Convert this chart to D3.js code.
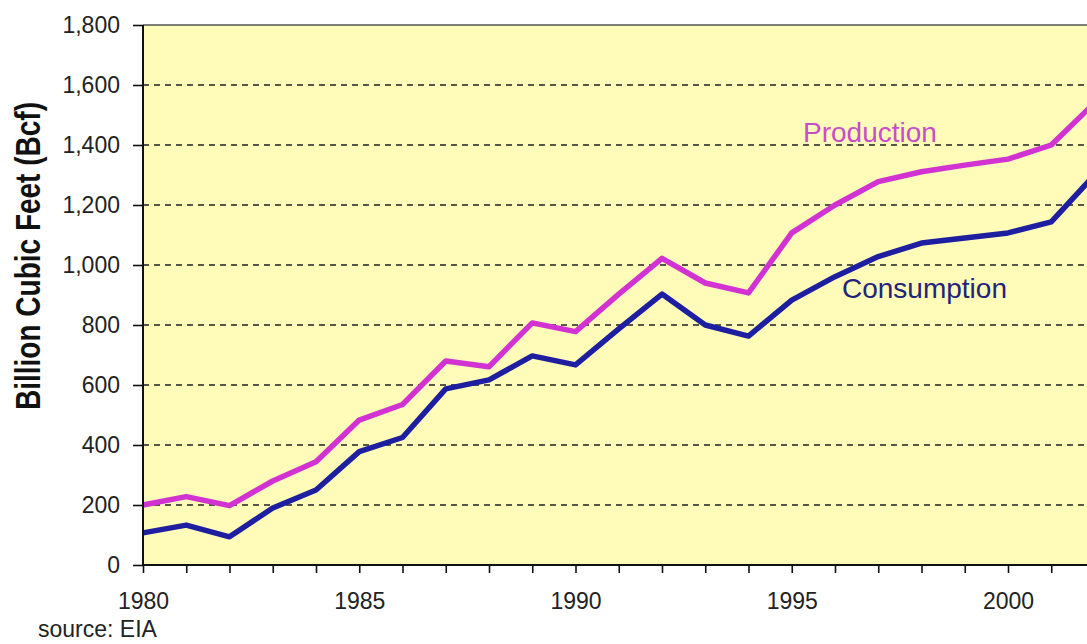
<!DOCTYPE html>
<html>
<head>
<meta charset="utf-8">
<script src="https://cdn.jsdelivr.net/npm/d3@7"></script>
<style>
body { margin:0; background:#fff; }
svg { display:block; overflow:hidden; }
text { font-family: "Liberation Sans", Arial, sans-serif; }
</style>
</head>
<body>
<script>
// yearly values, Bcf
var years = [1980,1981,1982,1983,1984,1985,1986,1987,1988,1989,1990,1991,
             1992,1993,1994,1995,1996,1997,1998,1999,2000,2001,2002];
var production = [200,228,198,280,344,483,535,680,661,807,778,903,
                  1022,940,907,1107,1200,1278,1311,1333,1353,1400,1540];
var consumption = [107,133,94,190,250,378,425,587,617,697,667,787,
                   903,800,763,883,961,1028,1073,1090,1107,1144,1300];
var yTicks = [0,200,400,600,800,1000,1200,1400,1600,1800];
var xLabels = [1980,1985,1990,1995,2000];

var margin = {top:25,left:143,bottom:79,right:0};
var totalWidth = 1087;
var totalHeight = 644;
var height = totalHeight - margin.top - margin.bottom;

var x = d3.scaleLinear()
      .domain([1980, 2002])
      .range([0, 22 * 43.25]);
var y = d3.scaleLinear()
      .domain([0, 1800])
      .range([height, 0]);

var svg = d3.select("body").append("svg")
.attr("width", totalWidth)
.attr("height", totalHeight)
.append("g")
.attr("transform", "translate(" + margin.left + "," + margin.top + ")");

// plot background
svg.append("rect")
  .attr("x", 0)
  .attr("y", 0)
  .attr("width", x(2002) + 10)
  .attr("height", height)
  .attr("fill", "#fffbb9");

// dashed grid
svg.selectAll(".grid")
  .data(yTicks.filter(function(d){ return d > 0 && d < 1800; }))
  .enter().append("line")
  .attr("class", "grid")
  .attr("x1", 0)
  .attr("x2", x(2002) + 10)
  .attr("y1", function(d){ return y(d); })
  .attr("y2", function(d){ return y(d); })
  .attr("stroke", "#222")
  .attr("stroke-width", 1.6)
  .attr("stroke-dasharray", "6,5");

// top border
svg.append("line")
  .attr("x1", 0).attr("x2", x(2002) + 10)
  .attr("y1", 0).attr("y2", 0)
  .attr("stroke", "#555").attr("stroke-width", 1.5);

var line = d3.line()
  .x(function(d, i){ return x(years[i]); })
  .y(function(d){ return y(d); });

svg.append("path")
  .datum(consumption)
  .attr("d", line)
  .attr("fill", "none")
  .attr("stroke", "#1e1ea0")
  .attr("stroke-width", 5.5)
  .attr("stroke-linejoin", "round");

svg.append("path")
  .datum(production)
  .attr("d", line)
  .attr("fill", "none")
  .attr("stroke", "#d232d2")
  .attr("stroke-width", 5.5)
  .attr("stroke-linejoin", "round");

// axes
var yAxis = svg.append("g")
  .call(d3.axisLeft(y).tickValues(yTicks).tickFormat(d3.format(",")).tickSize(10).tickPadding(13));
var xAxis = svg.append("g")
  .attr("transform", "translate(0," + height + ")")
  .call(d3.axisBottom(x).tickValues(years)
    .tickFormat(function(d){ return xLabels.indexOf(d) >= 0 ? d : ""; })
    .tickSize(8).tickPadding(20));

[yAxis, xAxis].forEach(function(a){
  a.select(".domain").attr("stroke", "#111").attr("stroke-width", 2);
  a.selectAll(".tick line").attr("stroke", "#111").attr("stroke-width", 1.6);
  a.selectAll(".tick text").attr("font-size", "23px").attr("fill", "#222")
    .attr("font-family", "'Liberation Sans', Arial, sans-serif");
});
yAxis.select(".domain").attr("d", "M0," + height + "V0");
xAxis.select(".domain").attr("d", "M0,0H" + (x(2002) + 10));

// series labels
svg.append("text")
  .attr("x", 803 - margin.left)
  .attr("y", 142 - margin.top)
  .attr("font-size", "28px")
  .attr("fill", "#c84ec8")
  .text("Production");

svg.append("text")
  .attr("x", 842 - margin.left)
  .attr("y", 298 - margin.top)
  .attr("font-size", "28px")
  .attr("fill", "#23237a")
  .text("Consumption");

// y axis title
d3.select("svg").append("text")
  .attr("transform", "translate(40,256) rotate(-90) scale(1,1.25)")
  .attr("text-anchor", "middle")
  .attr("font-size", "28px")
  .attr("font-weight", "bold")
  .attr("fill", "#111")
  .text("Billion Cubic Feet (Bcf)");

d3.select("svg").append("text")
  .attr("x", 38)
  .attr("y", 637)
  .attr("font-size", "23px")
  .attr("fill", "#222")
  .text("source: EIA");
</script>
</body>
</html>
